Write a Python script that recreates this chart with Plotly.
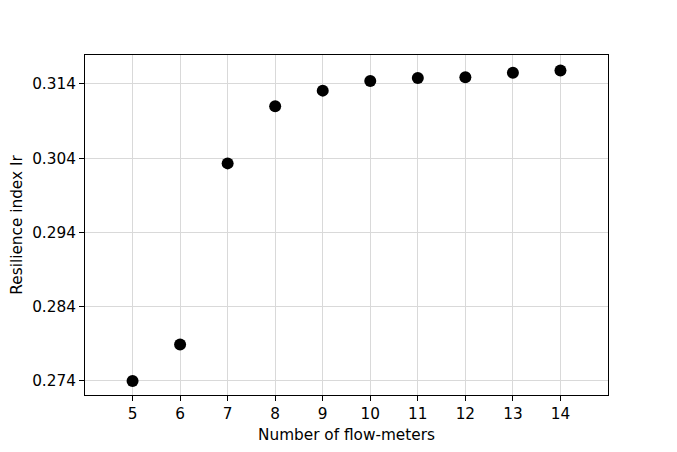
import plotly.graph_objects as go

flow_meters = [5, 6, 7, 8, 9, 10, 11, 12, 13, 14]
resilience = [0.2740, 0.2789, 0.3033, 0.3110, 0.3131, 0.3144, 0.3148, 0.3149, 0.3155, 0.3158]
y_ticks = [0.274, 0.284, 0.294, 0.304, 0.314]

FONT = "DejaVu Sans"
FS = 15.3

fig = go.Figure()
fig.add_trace(go.Scatter(
    x=flow_meters, y=resilience, mode="markers",
    marker=dict(color="black", size=12),
    showlegend=False,
))

axis_common = dict(
    showline=True, linecolor="black", linewidth=1, mirror=True,
    ticks="outside", ticklen=5, tickcolor="black", tickwidth=1,
    showgrid=True, gridcolor="#d9d9d9", gridwidth=1, zeroline=False,
    tickfont=dict(family=FONT, size=FS, color="black"),
    automargin=False,
)

fig.update_layout(
    width=677, height=452,
    margin=dict(l=77, r=77, t=47, b=65),
    paper_bgcolor="white", plot_bgcolor="white",
    font=dict(family=FONT, size=FS, color="black"),
    xaxis=dict(range=[4, 15], tickmode="array", tickvals=flow_meters,
               title=dict(text="Number of flow-meters", standoff=6,
                          font=dict(family=FONT, size=FS)),
               **axis_common),
    yaxis=dict(range=[0.2721, 0.3179], tickmode="array", tickvals=y_ticks,
               ticktext=[f"{v:.3f}" for v in y_ticks],
               title=dict(text="Resilience index Ir", standoff=6,
                          font=dict(family=FONT, size=FS)),
               **axis_common),
)

fig.write_html("out.html")
